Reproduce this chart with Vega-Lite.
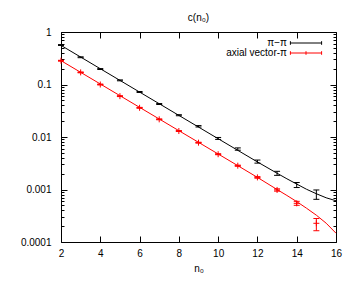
{
  "$schema": "https://vega.github.io/schema/vega-lite/v6.json",
  "width": 275,
  "height": 210,
  "autosize": "none",
  "padding": {"left": 61, "top": 32, "right": 18, "bottom": 45},
  "background": "white",
  "config": {
    "font": "Liberation Sans",
    "view": {"stroke": null},
    "axis": {
      "labelFont": "Liberation Sans",
      "labelFontSize": 10,
      "labelColor": "black",
      "domainColor": "black",
      "domainWidth": 1,
      "tickColor": "black",
      "tickWidth": 1,
      "grid": false,
      "labelFlush": false,
      "labelOverlap": false,
      "titleFont": "Liberation Sans",
      "titleFontSize": 10,
      "titleFontWeight": "normal",
      "titleColor": "black"
    }
  },
  "title": {"text": "c(n₀)", "fontSize": 10, "fontWeight": "normal", "font": "Liberation Sans", "color": "black", "offset": 4},
  "datasets": {
    "pts": [
      {"s": "π−π", "n": 2, "c": 0.565, "lo": 0.554, "hi": 0.576},
      {"s": "π−π", "n": 3, "c": 0.33, "lo": 0.324, "hi": 0.337},
      {"s": "π−π", "n": 4, "c": 0.197, "lo": 0.193, "hi": 0.201},
      {"s": "π−π", "n": 5, "c": 0.12, "lo": 0.1176, "hi": 0.1224},
      {"s": "π−π", "n": 6, "c": 0.072, "lo": 0.0705, "hi": 0.0735},
      {"s": "π−π", "n": 7, "c": 0.0425, "lo": 0.0416, "hi": 0.0434},
      {"s": "π−π", "n": 8, "c": 0.026, "lo": 0.0254, "hi": 0.0266},
      {"s": "π−π", "n": 9, "c": 0.016, "lo": 0.0155, "hi": 0.0165},
      {"s": "π−π", "n": 10, "c": 0.0094, "lo": 0.009, "hi": 0.0098},
      {"s": "π−π", "n": 11, "c": 0.0059, "lo": 0.0056, "hi": 0.0062},
      {"s": "π−π", "n": 12, "c": 0.0034, "lo": 0.00318, "hi": 0.00364},
      {"s": "π−π", "n": 13, "c": 0.00204, "lo": 0.00186, "hi": 0.00222},
      {"s": "π−π", "n": 14, "c": 0.00122, "lo": 0.00109, "hi": 0.00136},
      {"s": "π−π", "n": 15, "c": 0.00079, "lo": 0.00065, "hi": 0.00098},
      {"s": "axial vector-π", "n": 2, "c": 0.284, "lo": 0.279, "hi": 0.289},
      {"s": "axial vector-π", "n": 3, "c": 0.17, "lo": 0.167, "hi": 0.173},
      {"s": "axial vector-π", "n": 4, "c": 0.1, "lo": 0.098, "hi": 0.102},
      {"s": "axial vector-π", "n": 5, "c": 0.06, "lo": 0.0589, "hi": 0.0611},
      {"s": "axial vector-π", "n": 6, "c": 0.036, "lo": 0.0353, "hi": 0.0367},
      {"s": "axial vector-π", "n": 7, "c": 0.0217, "lo": 0.0213, "hi": 0.0221},
      {"s": "axial vector-π", "n": 8, "c": 0.013, "lo": 0.01275, "hi": 0.01325},
      {"s": "axial vector-π", "n": 9, "c": 0.0078, "lo": 0.00765, "hi": 0.00795},
      {"s": "axial vector-π", "n": 10, "c": 0.0047, "lo": 0.0046, "hi": 0.0048},
      {"s": "axial vector-π", "n": 11, "c": 0.00284, "lo": 0.00277, "hi": 0.00291},
      {"s": "axial vector-π", "n": 12, "c": 0.0017, "lo": 0.00164, "hi": 0.00176},
      {"s": "axial vector-π", "n": 13, "c": 0.00098, "lo": 0.00093, "hi": 0.00103},
      {"s": "axial vector-π", "n": 14, "c": 0.000546, "lo": 0.0005, "hi": 0.000595},
      {"s": "axial vector-π", "n": 15, "c": 0.000227, "lo": 0.000164, "hi": 0.00028}
    ],
    "fit": [
      {"s": "π−π", "n": 2, "c": 0.556},
      {"s": "π−π", "n": 3, "c": 0.3333},
      {"s": "π−π", "n": 4, "c": 0.1998},
      {"s": "π−π", "n": 5, "c": 0.1198},
      {"s": "π−π", "n": 6, "c": 0.0718},
      {"s": "π−π", "n": 7, "c": 0.04305},
      {"s": "π−π", "n": 8, "c": 0.0258},
      {"s": "π−π", "n": 9, "c": 0.01547},
      {"s": "π−π", "n": 10, "c": 0.00928},
      {"s": "π−π", "n": 11, "c": 0.00557},
      {"s": "π−π", "n": 12, "c": 0.00335},
      {"s": "π−π", "n": 13, "c": 0.00204},
      {"s": "π−π", "n": 13.5, "c": 0.0016},
      {"s": "π−π", "n": 14, "c": 0.00127},
      {"s": "π−π", "n": 14.5, "c": 0.00101},
      {"s": "π−π", "n": 15, "c": 0.00083},
      {"s": "π−π", "n": 15.5, "c": 0.000695},
      {"s": "π−π", "n": 16, "c": 0.00061},
      {"s": "axial vector-π", "n": 2, "c": 0.2844},
      {"s": "axial vector-π", "n": 3, "c": 0.1706},
      {"s": "axial vector-π", "n": 4, "c": 0.1023},
      {"s": "axial vector-π", "n": 5, "c": 0.0613},
      {"s": "axial vector-π", "n": 6, "c": 0.03674},
      {"s": "axial vector-π", "n": 7, "c": 0.02203},
      {"s": "axial vector-π", "n": 8, "c": 0.0132},
      {"s": "axial vector-π", "n": 9, "c": 0.00792},
      {"s": "axial vector-π", "n": 10, "c": 0.00475},
      {"s": "axial vector-π", "n": 11, "c": 0.002846},
      {"s": "axial vector-π", "n": 12, "c": 0.0017},
      {"s": "axial vector-π", "n": 13, "c": 0.001},
      {"s": "axial vector-π", "n": 13.5, "c": 0.00077},
      {"s": "axial vector-π", "n": 14, "c": 0.000588},
      {"s": "axial vector-π", "n": 14.5, "c": 0.00044},
      {"s": "axial vector-π", "n": 15, "c": 0.000324},
      {"s": "axial vector-π", "n": 15.5, "c": 0.000228},
      {"s": "axial vector-π", "n": 16, "c": 0.000147}
    ]
  },
  "layer": [
    {
      "layer": [
        {
          "data": {"name": "fit"},
          "mark": {"type": "line", "strokeWidth": 1, "clip": true},
          "encoding": {
            "x": {
              "field": "n", "type": "quantitative",
              "scale": {"domain": [2, 16], "nice": false, "zero": false},
              "axis": {"values": [2, 4, 6, 8, 10, 12, 14, 16], "format": "d", "tickCount": 50, "tickSize": -6, "labelPadding": 12, "labelOverlap": false, "labelFlush": false, "title": "n₀", "titlePadding": 5, "orient": "bottom"}
            },
            "y": {
              "field": "c", "type": "quantitative",
              "scale": {"type": "log", "domain": [0.0001, 1], "nice": false},
              "axis": {
                "values": [0.0001, 0.0002, 0.0003, 0.0004, 0.0005, 0.0006, 0.0007, 0.0008, 0.0009, 0.001, 0.002, 0.003, 0.004, 0.005, 0.006, 0.007, 0.008, 0.009, 0.01, 0.02, 0.03, 0.04, 0.05, 0.06, 0.07, 0.08, 0.09, 0.1, 0.2, 0.3, 0.4, 0.5, 0.6, 0.7, 0.8, 0.9, 1],
                "tickCount": 100,
                "tickSize": {"condition": {"test": "indexof([1, 0.1, 0.01, 0.001, 0.0001], datum.value) >= 0", "value": -6}, "value": -3},
                "labelExpr": "indexof([1, 0.1, 0.01, 0.001, 0.0001], datum.value) >= 0 ? '' + datum.value : ''",
                "labelPadding": 16,
                "labelOverlap": false,
                "labelFlush": false,
                "title": null,
                "orient": "left"
              }
            },
            "color": {
              "field": "s", "type": "nominal",
              "scale": {"domain": ["π−π", "axial vector-π"], "range": ["#000000", "#ff0000"]},
              "legend": {
                "orient": "none",
                "legendX": 240,
                "legendY": 6,
                "title": null,
                "padding": 0,
                "labelFont": "Liberation Sans",
                "labelFontSize": 10,
                "labelColor": "black",
                "labelAlign": "right",
                "labelOffset": -24,
                "symbolSize": 36,
                "symbolStrokeWidth": 1,
                "rowPadding": 0,
                "encode": {
                  "symbols": {
                    "update": {
                      "shape": {"signal": "datum.value === 'π−π' ? 'M-5.2,0H5.2M-5.2,-0.6V0.6M5.2,-0.6V0.6' : 'M-5.2,0H5.2M-5.2,-0.6V0.6M5.2,-0.6V0.6M0,-0.6V0.6'"},
                      "fill": {"value": "transparent"}
                    }
                  }
                }
              }
            }
          }
        },
        {
          "data": {"name": "pts"},
          "mark": {"type": "rule", "strokeWidth": 1},
          "encoding": {
            "x": {"field": "n", "type": "quantitative"},
            "y": {"field": "lo", "type": "quantitative"},
            "y2": {"field": "hi"},
            "color": {"field": "s", "type": "nominal"}
          }
        },
        {
          "data": {"name": "pts"},
          "mark": {"type": "tick", "orient": "horizontal", "size": 6, "thickness": 1, "opacity": 1},
          "encoding": {
            "x": {"field": "n", "type": "quantitative"},
            "y": {"field": "lo", "type": "quantitative"},
            "color": {"field": "s", "type": "nominal"}
          }
        },
        {
          "data": {"name": "pts"},
          "mark": {"type": "tick", "orient": "horizontal", "size": 6, "thickness": 1, "opacity": 1},
          "encoding": {
            "x": {"field": "n", "type": "quantitative"},
            "y": {"field": "hi", "type": "quantitative"},
            "color": {"field": "s", "type": "nominal"}
          }
        },
        {
          "data": {"name": "pts"},
          "transform": [{"filter": "datum.s === 'axial vector-π'"}],
          "mark": {"type": "point", "shape": "M-1,0H1M0,-1V1", "size": 36, "filled": false, "strokeWidth": 1, "opacity": 1, "color": "#ff0000"},
          "encoding": {
            "x": {"field": "n", "type": "quantitative"},
            "y": {"field": "c", "type": "quantitative"}
          }
        }
      ]
    },
    {
      "data": {"name": "fit"},
      "mark": {"type": "point", "opacity": 0},
      "encoding": {
        "x": {
          "field": "n", "type": "quantitative",
          "scale": {"domain": [2, 16], "nice": false, "zero": false},
          "axis": {"values": [2, 4, 6, 8, 10, 12, 14, 16], "tickCount": 50, "tickSize": -6, "labels": false, "title": null, "orient": "top"}
        },
        "y": {
          "field": "c", "type": "quantitative",
          "scale": {"type": "log", "domain": [0.0001, 1], "nice": false},
          "axis": {
            "values": [0.0001, 0.0002, 0.0003, 0.0004, 0.0005, 0.0006, 0.0007, 0.0008, 0.0009, 0.001, 0.002, 0.003, 0.004, 0.005, 0.006, 0.007, 0.008, 0.009, 0.01, 0.02, 0.03, 0.04, 0.05, 0.06, 0.07, 0.08, 0.09, 0.1, 0.2, 0.3, 0.4, 0.5, 0.6, 0.7, 0.8, 0.9, 1],
            "tickCount": 100,
            "tickSize": {"condition": {"test": "indexof([1, 0.1, 0.01, 0.001, 0.0001], datum.value) >= 0", "value": -6}, "value": -3},
            "labels": false,
            "title": null,
            "orient": "right"
          }
        }
      }
    }
  ],
  "resolve": {"axis": {"x": "independent", "y": "independent"}}
}
